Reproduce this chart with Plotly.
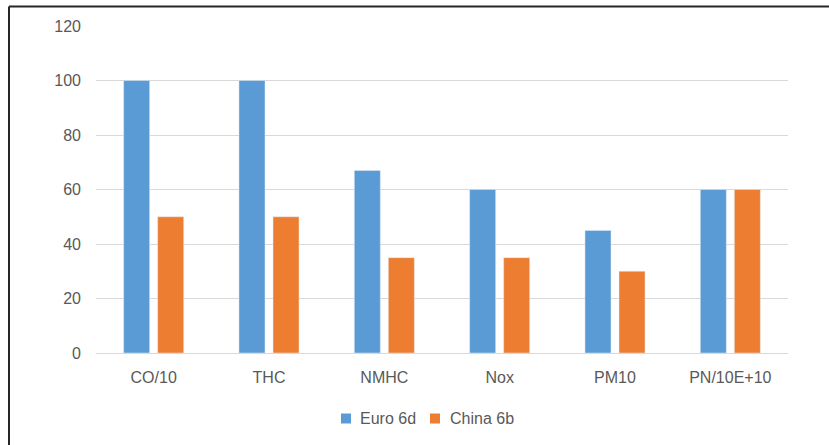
import plotly.graph_objects as go

# Emission limits (scaled units) for each pollutant
categories = ["CO/10", "THC", "NMHC", "Nox", "PM10", "PN/10E+10"]
euro_6d = [100, 100, 67, 60, 45, 60]
china_6b = [50, 50, 35, 35, 30, 60]
y_ticks = [0, 20, 40, 60, 80, 100, 120]
series_names = ["Euro 6d", "China 6b"]

BLUE = "#5B9BD5"
ORANGE = "#ED7D31"
TEXT = "#595959"
GRID = "#D9D9D9"
FONT = "Liberation Sans"

fig = go.Figure()
fig.add_trace(go.Bar(name=series_names[0], x=categories, y=euro_6d, marker_color=BLUE))
fig.add_trace(go.Bar(name=series_names[1], x=categories, y=china_6b, marker_color=ORANGE))

W, H = 829, 445
L, R, T, B = 96, 41, 26, 92
pw, ph = W - L - R, H - T - B


def px_x(x):
    return (x - L) / pw


def px_y(y):
    return (H - B - y) / ph


# Outer frame: top and left edges of the chart area
fig.add_shape(type="line", xref="paper", yref="paper",
              x0=px_x(9), x1=2, y0=px_y(6.5), y1=px_y(6.5),
              line=dict(color="#262626", width=2))
fig.add_shape(type="line", xref="paper", yref="paper",
              x0=px_x(9), x1=px_x(9), y0=-1, y1=px_y(6.5),
              line=dict(color="#262626", width=2))

# Legend below the plot: small square swatches followed by the series name
legend_y = 418.5
legend_items = [(341, 358, BLUE), (430, 448, ORANGE)]
for name, (sx, tx, col) in zip(series_names, legend_items):
    fig.add_shape(type="rect", xref="paper", yref="paper",
                  x0=px_x(sx), x1=px_x(sx + 10),
                  y0=px_y(legend_y + 5), y1=px_y(legend_y - 5),
                  fillcolor=col, line=dict(width=0))
    fig.add_annotation(xref="paper", yref="paper", x=px_x(tx), y=px_y(legend_y),
                       text=name, showarrow=False, xanchor="left", yanchor="middle",
                       font=dict(family=FONT, size=16, color=TEXT))

fig.update_layout(
    width=W, height=H,
    margin=dict(l=L, r=R, t=T, b=B),
    paper_bgcolor="white", plot_bgcolor="white",
    barmode="group", bargap=0.41, bargroupgap=0.235,
    font=dict(family=FONT, size=16, color=TEXT),
    showlegend=False,
)
fig.update_xaxes(showgrid=False, showline=False, ticks="",
                 tickfont=dict(family=FONT, size=16, color=TEXT),
                 ticklabelstandoff=13)
fig.update_yaxes(range=[0, 120], tickvals=y_ticks,
                 showgrid=True, gridcolor=GRID, gridwidth=1,
                 zeroline=True, zerolinecolor=GRID, zerolinewidth=1,
                 showline=False, ticks="",
                 tickfont=dict(family=FONT, size=16, color=TEXT),
                 ticklabelstandoff=14)

fig.write_html("out.html")
